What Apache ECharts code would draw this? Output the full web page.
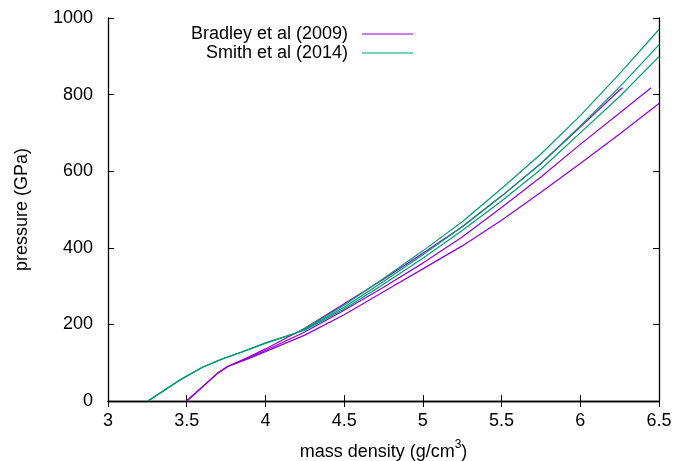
<!DOCTYPE html>
<html>
<head>
<meta charset="utf-8">
<script src="https://cdn.jsdelivr.net/npm/echarts@6/dist/echarts.min.js"></script>
<style>
html,body{margin:0;padding:0;background:#fff;}
#chart{width:691px;height:461px;}
</style>
</head>
<body>
<div id="chart"></div>
<script>
// ---- data (mass density g/cm^3, pressure GPa) ----
const seriesNames = ['Bradley et al (2009)', 'Smith et al (2014)'];
const xTicks = [3, 3.5, 4, 4.5, 5, 5.5, 6, 6.5];
const yTicks = [0, 200, 400, 600, 800, 1000];

// Bradley et al (2009) curves
const bradley1X = [3.5, 3.6, 3.7, 3.76, 3.83, 3.9, 4.0, 4.25, 4.5, 4.75, 5.0, 5.25, 5.5, 5.75, 6.0, 6.25, 6.27];
const bradley1P = [0, 37, 74, 90, 103, 116, 136, 190, 254, 318, 386, 455, 535, 620, 715, 812, 818];
const bradley2X = [3.5, 3.6, 3.7, 3.76, 3.83, 3.9, 4.0, 4.25, 4.5, 4.75, 5.0, 5.25, 5.5, 5.75, 6.0, 6.25, 6.45];
const bradley2P = [0, 37, 74, 90, 102, 114, 132, 180, 237, 297, 360, 428, 505, 585, 670, 752, 818];
const bradley3X = [3.5, 3.6, 3.7, 3.76, 3.83, 3.9, 4.0, 4.25, 4.5, 4.75, 5.0, 5.25, 5.5, 5.75, 6.0, 6.25, 6.5];
const bradley3P = [0, 37, 74, 90, 101, 112, 129, 172, 225, 285, 345, 405, 472, 545, 620, 697, 777];

// Smith et al (2014) curves
const smith1X = [3.254, 3.457, 3.6, 3.733, 3.85, 4.0, 4.19, 4.25, 4.5, 4.75, 5.0, 5.25, 5.5, 5.75, 6.0, 6.25, 6.5];
const smith1P = [0, 55, 88, 111, 128, 151, 177, 189, 250, 320, 392, 468, 555, 645, 745, 855, 970];
const smith2X = [3.254, 3.457, 3.6, 3.733, 3.85, 4.0, 4.19, 4.25, 4.5, 4.75, 5.0, 5.25, 5.5, 5.75, 6.0, 6.25, 6.5];
const smith2P = [0, 55, 88, 111, 128, 151, 177, 187, 245, 312, 382, 455, 535, 620, 718, 820, 930];
const smith3X = [3.254, 3.457, 3.6, 3.733, 3.85, 4.0, 4.19, 4.25, 4.5, 4.75, 5.0, 5.25, 5.5, 5.75, 6.0, 6.25, 6.5];
const smith3P = [0, 55, 88, 111, 128, 151, 177, 185, 240, 305, 373, 445, 522, 605, 700, 795, 899];

const PURPLE = '#9400d3';
const GREEN = '#009e73';
const FONT = 'Liberation Sans, Arial, sans-serif';
const FS = 18;

function pairs(xs, ys) { return xs.map((x, i) => [x, ys[i]]); }

function lineSeries(name, color, xs, ys) {
  return {
    name: name,
    type: 'line',
    data: pairs(xs, ys),
    showSymbol: false,
    smooth: false,
    color: color,
    lineStyle: { color: color, width: 1.2 },
    emphasis: { disabled: true },
    animation: false,
    clip: true
  };
}

const axisLine = { show: true, lineStyle: { color: '#000', width: 1.3 } };
const tickStyle = { show: true, inside: true, length: 6, lineStyle: { color: '#000', width: 1 } };

const chart = echarts.init(document.getElementById('chart'), null, { renderer: 'canvas' });
chart.setOption({
  backgroundColor: '#fff',
  animation: false,
  grid: { left: 108, right: 32, top: 18, bottom: 60, containLabel: false, outerBoundsMode: 'none' },
  legend: {
    data: seriesNames,
    orient: 'vertical',
    align: 'right',
    right: 273,
    top: 20,
    itemWidth: 51,
    itemHeight: 1.2,
    itemGap: 1,
    icon: 'rect',
    selectedMode: false,
    textStyle: { fontFamily: FONT, fontSize: FS, color: '#000', padding: [0, 9, 0, 0] }
  },
  xAxis: [{
    type: 'value', min: 3, max: 6.5, interval: 0.5, position: 'bottom',
    axisLine: axisLine, axisTick: tickStyle, splitLine: { show: false },
    axisLabel: { fontFamily: FONT, fontSize: FS, color: '#000', margin: 11,
      formatter: function (v) { return xTicks.indexOf(v) >= 0 ? String(v) : ''; } },
    name: '{a|mass density (g/cm}{s|3}{a|)}',
    nameLocation: 'middle', nameGap: 38,
    nameTextStyle: { rich: {
      a: { fontFamily: FONT, fontSize: FS, color: '#000', verticalAlign: 'bottom', lineHeight: 22 },
      s: { fontFamily: FONT, fontSize: 12, color: '#000', verticalAlign: 'top', lineHeight: 22 }
    } }
  }, {
    type: 'value', min: 3, max: 6.5, interval: 0.5, position: 'top',
    axisLine: axisLine, axisTick: tickStyle, splitLine: { show: false },
    axisLabel: { show: false }
  }],
  yAxis: [{
    type: 'value', min: 0, max: 1000, interval: 200, position: 'left',
    axisLine: axisLine, axisTick: tickStyle, splitLine: { show: false },
    axisLabel: { fontFamily: FONT, fontSize: FS, color: '#000', margin: 15,
      formatter: function (v) { return yTicks.indexOf(v) >= 0 ? String(v) : ''; } },
    name: 'pressure (GPa)', nameLocation: 'middle', nameGap: 77, nameRotate: 90,
    nameTextStyle: { fontFamily: FONT, fontSize: FS, color: '#000' }
  }, {
    type: 'value', min: 0, max: 1000, interval: 200, position: 'right',
    axisLine: axisLine, axisTick: tickStyle, splitLine: { show: false },
    axisLabel: { show: false }
  }],
  series: [
    lineSeries(seriesNames[0], PURPLE, bradley1X, bradley1P),
    lineSeries(seriesNames[0], PURPLE, bradley2X, bradley2P),
    lineSeries(seriesNames[0], PURPLE, bradley3X, bradley3P),
    lineSeries(seriesNames[1], GREEN, smith1X, smith1P),
    lineSeries(seriesNames[1], GREEN, smith2X, smith2P),
    lineSeries(seriesNames[1], GREEN, smith3X, smith3P)
  ]
});
</script>
</body>
</html>
